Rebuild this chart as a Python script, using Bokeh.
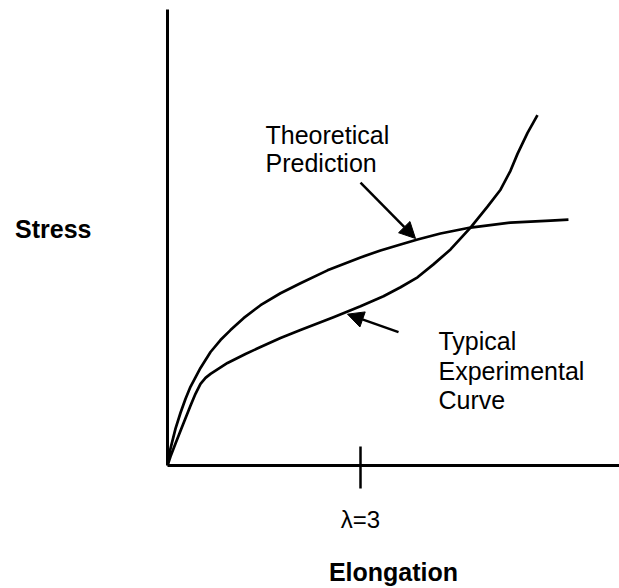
from bokeh.plotting import figure
from bokeh.models import Range1d, FixedTicker, Label, Arrow, NormalHead
from bokeh.embed import file_html
from bokeh.resources import INLINE

# Elongation (lambda) and stress values
theory_lambda = [1.000, 1.031, 1.083, 1.135, 1.187, 1.238, 1.342, 1.446, 1.549,
                 1.653, 1.788, 1.964, 2.171, 2.378, 2.658, 3.000, 3.207, 3.415,
                 3.591, 3.829, 4.140, 4.554, 4.969, 5.155]
theory_stress = [0.00, 0.17, 0.37, 0.53, 0.67, 0.79, 0.98, 1.14, 1.26,
                 1.36, 1.48, 1.61, 1.73, 1.83, 1.96, 2.09, 2.16, 2.22,
                 2.27, 2.33, 2.39, 2.44, 2.46, 2.47]

expt_lambda = [1.000, 1.031, 1.083, 1.135, 1.238, 1.290, 1.342, 1.394, 1.446,
               1.622, 1.808, 1.964, 2.171, 2.378, 2.720, 3.000, 3.238, 3.415,
               3.591, 3.756, 3.933, 4.140, 4.316, 4.451, 4.554, 4.627, 4.731, 4.834]
expt_stress = [0.00, 0.09, 0.22, 0.35, 0.60, 0.72, 0.82, 0.88, 0.92,
               1.03, 1.12, 1.19, 1.28, 1.36, 1.49, 1.60, 1.70, 1.79,
               1.89, 2.02, 2.17, 2.39, 2.60, 2.77, 2.96, 3.13, 3.34, 3.52]

x_ticks = [3]
x_tick_labels = {3: "λ=3"}
y_label_pos = [2.38]
y_label_text = {2.38: "Stress"}

FONT = "Liberation Sans"

p = figure(width=619, height=588, output_backend="svg", toolbar_location=None,
           x_range=Range1d(1.0, 5.684), y_range=Range1d(0.0, 4.58),
           min_border_left=167, min_border_right=0, min_border_top=9,
           min_border_bottom=121)
p.outline_line_color = None
p.grid.visible = False
p.background_fill_color = "white"
p.border_fill_color = "white"

# x axis
xa = p.xaxis[0]
xa.ticker = FixedTicker(ticks=x_ticks)
xa.major_label_overrides = x_tick_labels
xa.axis_line_width = 3
xa.axis_line_color = "black"
xa.major_tick_line_width = 2.5
xa.major_tick_line_color = "black"
xa.major_tick_in = 19
xa.major_tick_out = 23
xa.minor_tick_line_color = None
xa.major_label_text_font = FONT
xa.major_label_text_font_size = "24px"
xa.major_label_text_color = "black"
xa.major_label_standoff = 17
xa.axis_label = "Elongation"
xa.axis_label_text_font = FONT
xa.axis_label_text_font_style = "bold"
xa.axis_label_text_font_size = "25px"
xa.axis_label_text_color = "black"
xa.axis_label_standoff = 22

# y axis (the "Stress" caption is drawn as its single horizontal label)
ya = p.yaxis[0]
ya.ticker = FixedTicker(ticks=y_label_pos)
ya.major_label_overrides = y_label_text
ya.axis_line_width = 3
ya.axis_line_color = "black"
ya.major_tick_line_color = None
ya.major_tick_in = 0
ya.major_tick_out = 0
ya.minor_tick_line_color = None
ya.major_label_text_font = FONT
ya.major_label_text_font_style = "bold"
ya.major_label_text_font_size = "25px"
ya.major_label_text_color = "black"
ya.major_label_standoff = 76

p.line(theory_lambda, theory_stress, line_color="black", line_width=2.7,
       line_join="round")
p.line(expt_lambda, expt_stress, line_color="black", line_width=2.7,
       line_join="round")

# arrows
p.add_layout(Arrow(x_start=3.0, y_start=2.84, x_end=3.57, y_end=2.28,
                   line_width=2.5, line_color="black",
                   end=NormalHead(size=16, fill_color="black", line_color="black")))
p.add_layout(Arrow(x_start=3.394, y_start=1.34, x_end=2.865, y_end=1.52,
                   line_width=2.5, line_color="black",
                   end=NormalHead(size=16, fill_color="black", line_color="black")))

def lab(x, y, t):
    p.add_layout(Label(x=x, y=y, text=t, text_font=FONT, text_font_size="25px",
                       text_color="black", text_baseline="alphabetic",
                       text_align="left"))

lab(2.016, 3.32, "Theoretical")
lab(2.016, 3.04, "Prediction")
lab(3.808, 1.25, "Typical")
lab(3.808, 0.95, "Experimental")
lab(3.808, 0.66, "Curve")

open("out.html", "w").write(file_html(p, INLINE))
